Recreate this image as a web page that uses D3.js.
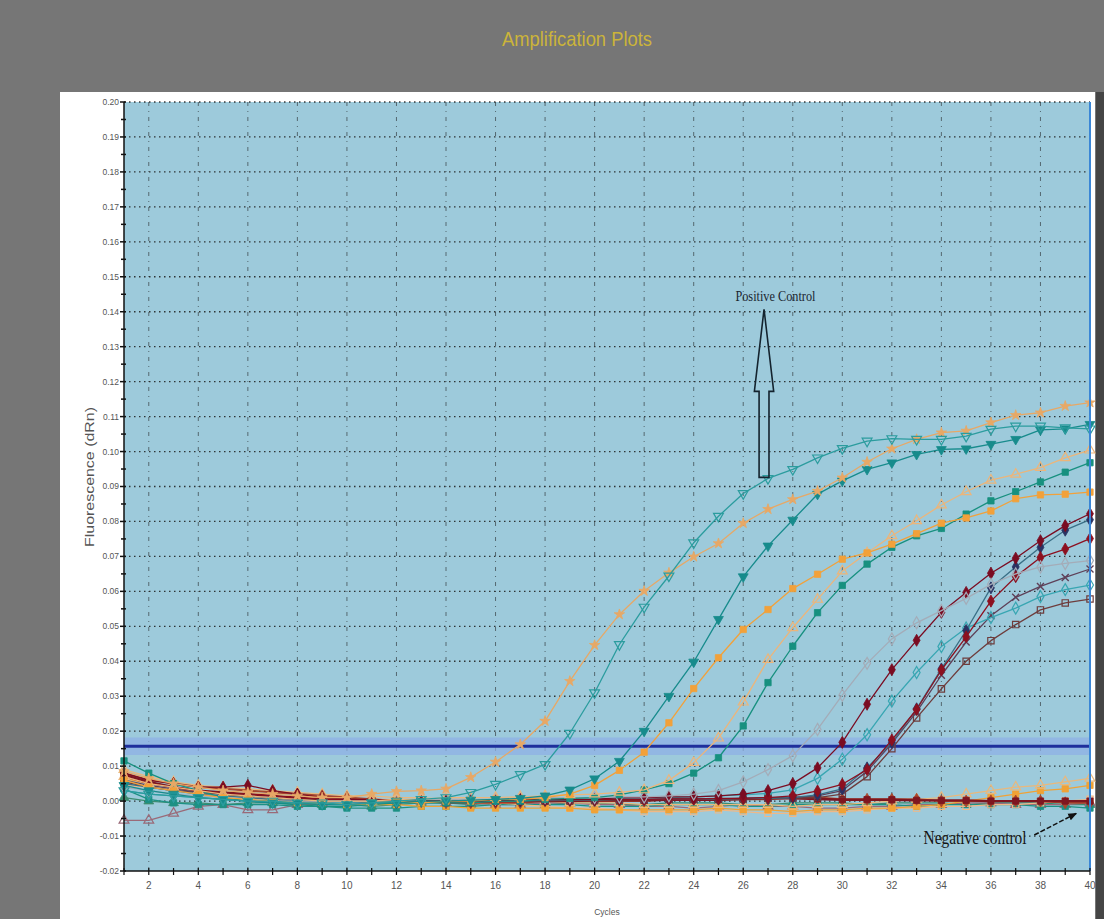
<!DOCTYPE html>
<html><head><meta charset="utf-8">
<script src="https://cdn.jsdelivr.net/npm/d3@7"></script>
<style>html,body{margin:0;padding:0;background:#767676;overflow:hidden}svg{display:block}</style>
</head><body>
<svg id="chart" width="1104" height="919"></svg>
<script>
// ---------------- DATA ----------------
const cycles = [1,2,3,4,5,6,7,8,9,10,11,12,13,14,15,16,17,18,19,20,21,22,23,24,25,26,27,28,29,30,31,32,33,34,35,36,37,38,39,40];
const xTickLabels = [2,4,6,8,10,12,14,16,18,20,22,24,26,28,30,32,34,36,38,40];
const yTickValues = [-0.02,-0.01,0.00,0.01,0.02,0.03,0.04,0.05,0.06,0.07,0.08,0.09,0.10,0.11,0.12,0.13,0.14,0.15,0.16,0.17,0.18,0.19,0.20];
const yTickLabels = ["-0.02","-0.01","0.00","0.01","0.02","0.03","0.04","0.05","0.06","0.07","0.08","0.09","0.10","0.11","0.12","0.13","0.14","0.15","0.16","0.17","0.18","0.19","0.20"];
const threshold = 0.0157;

// amplifying samples
const posStar      = [0.0085,0.0065,0.005,0.004,0.003,0.0025,0.002,0.0015,0.001,0.001,0.002,0.0028,0.003,0.0035,0.0068,0.0112,0.0162,0.0229,0.0343,0.0446,0.0534,0.0601,0.0653,0.0699,0.0737,0.0795,0.0835,0.0863,0.0887,0.0925,0.0970,0.1008,0.1035,0.1054,0.1059,0.1083,0.1104,0.1111,0.1130,0.1140];
const posTriOpen   = [0.003,0.002,0.0015,0.001,0.0005,0,0,-0.0005,-0.0005,-0.001,-0.0005,0,0.0005,0.001,0.0025,0.0048,0.0076,0.0105,0.0194,0.0310,0.0448,0.0555,0.0644,0.0739,0.0815,0.0880,0.0923,0.0949,0.0982,0.1009,0.1030,0.1037,0.1035,0.1035,0.1044,0.1064,0.1073,0.1073,0.1068,0.1065];
const sTriFilled   = [0.0045,0.003,0.002,0.001,0.0005,0,-0.0005,-0.0005,-0.001,-0.001,-0.0005,-0.0005,0,0,0.0003,0.0005,0.0008,0.0015,0.0032,0.0064,0.0114,0.0200,0.0300,0.0398,0.0520,0.0642,0.0730,0.0804,0.0878,0.0916,0.0949,0.0968,0.0992,0.1006,0.1008,0.1021,0.1035,0.1062,0.1065,0.1078];
const sOrangeSq    = [0.006,0.004,0.003,0.002,0.001,0.0005,0,-0.0005,-0.0005,-0.001,-0.0005,0,-0.0005,0,0,0.0005,0.0005,0.001,0.002,0.0045,0.0088,0.0140,0.0224,0.0322,0.0410,0.0491,0.0548,0.0608,0.0649,0.0692,0.0710,0.0735,0.0765,0.0795,0.0810,0.0830,0.0865,0.0876,0.0878,0.0884];
const sTanTri      = [0.007,0.005,0.004,0.003,0.002,0.0015,0.001,0.0005,0,0,0,0.0005,0.0005,0.001,0.001,0.001,0.0012,0.0015,0.0018,0.002,0.0025,0.0032,0.0059,0.0110,0.0180,0.0283,0.0405,0.0496,0.0577,0.0658,0.0710,0.0759,0.0802,0.0847,0.0885,0.0918,0.0935,0.0954,0.0982,0.1004];
const sTealSq      = [0.0115,0.008,0.005,0.003,0.001,0,-0.0005,-0.001,-0.0015,-0.0015,-0.001,-0.0005,-0.0005,-0.0005,-0.0005,0,0,0.0005,0.0008,0.001,0.0018,0.0032,0.0050,0.0080,0.0124,0.0215,0.0339,0.0443,0.0539,0.0617,0.0678,0.0726,0.0759,0.0780,0.0821,0.0859,0.0885,0.0913,0.0941,0.0968];
const sGray        = [0.004,0.003,0.002,0.0015,0.001,0.0005,0,0,0,0,0,0,0.0005,0.0005,0.0005,0.0005,0.001,0.001,0.001,0.001,0.0012,0.0012,0.0015,0.0020,0.0030,0.0055,0.0090,0.0130,0.0205,0.0303,0.0394,0.0464,0.0510,0.0545,0.0580,0.0620,0.0650,0.0670,0.0680,0.0688];
const sRedA        = [0.008,0.006,0.005,0.004,0.004,0.0045,0.003,0.002,0.001,0.0005,0.0005,0,0,0,0,0,0.0005,0.0005,0.0005,0.0005,0.001,0.001,0.0012,0.0012,0.0015,0.002,0.0030,0.0050,0.0095,0.0168,0.0277,0.0376,0.0460,0.0540,0.0597,0.0652,0.0695,0.0745,0.0788,0.0822];
const sCyanDia     = [0.003,0.002,0.0015,0.001,0.0005,0,0,-0.0005,-0.0005,-0.0005,0,0,0,0,0.0003,0.0003,0.0005,0.0005,0.0005,0.0005,0.0008,0.001,0.001,0.0012,0.0015,0.0018,0.0022,0.0032,0.0065,0.0120,0.0190,0.0286,0.0368,0.0442,0.0495,0.0525,0.0552,0.0585,0.0605,0.0618];
const sRedB        = [0.007,0.005,0.004,0.003,0.002,0.002,0.0015,0.001,0.0005,0.0005,0,0,0,0,0.0002,0.0002,0.0004,0.0004,0.0004,0.0004,0.0005,0.0005,0.0006,0.0006,0.0007,0.0008,0.001,0.0015,0.0029,0.0048,0.0090,0.0175,0.0262,0.0375,0.0470,0.0572,0.0642,0.0697,0.0721,0.0751];
const sNavy        = [0.005,0.004,0.003,0.002,0.0015,0.001,0.0005,0,0,0,-0.0005,-0.0005,0,0,0,0,0,0.0003,0.0003,0.0003,0.0005,0.0005,0.0005,0.0006,0.0006,0.0008,0.0008,0.001,0.0018,0.0035,0.0095,0.0168,0.0264,0.0378,0.0488,0.0610,0.0670,0.0726,0.0775,0.0805];
const sCross       = [0.006,0.0045,0.0035,0.0025,0.002,0.0015,0.001,0.0005,0,0,0,0,0,0,0,0.0003,0.0003,0.0003,0.0005,0.0005,0.0005,0.0005,0.0006,0.0006,0.0008,0.0008,0.001,0.001,0.0015,0.0030,0.0085,0.0165,0.0255,0.0360,0.0455,0.0530,0.0583,0.0614,0.0640,0.0664];
const sBrownSq     = [0.0055,0.004,0.003,0.0025,0.002,0.0015,0.001,0.0005,0.0005,0,0,0,0,-0.0005,-0.0005,0,0,0,0.0002,0.0002,0.0004,0.0004,0.0005,0.0005,0.0006,0.0006,0.0008,0.0008,0.0010,0.0020,0.0070,0.0150,0.0238,0.0321,0.0400,0.0459,0.0505,0.0547,0.0567,0.0578];

// non-amplifying samples (negative controls / baseline)
const negOrangeSq  = [0.0065,0.005,0.004,0.003,0.002,0.001,0.0005,0,-0.0005,-0.001,-0.001,-0.001,-0.0015,-0.0015,-0.002,-0.002,-0.002,-0.002,-0.002,-0.0025,-0.0025,-0.0025,-0.0025,-0.0025,-0.002,-0.0025,-0.0025,-0.003,-0.0025,-0.0025,-0.002,-0.002,-0.0015,-0.001,0,0.001,0.002,0.003,0.0035,0.0045];
const negTanTri    = [0.009,0.007,0.0055,0.0045,0.004,0.0035,0.003,0.0025,0.002,0.0015,0.0015,0.001,0.001,0.0005,0.0005,0,0,0,-0.0005,-0.0005,-0.0005,-0.001,-0.001,-0.001,-0.001,-0.001,-0.001,-0.0015,-0.001,-0.001,-0.0005,0,0.0005,0.001,0.002,0.003,0.004,0.0045,0.0055,0.0065];
const negRed       = [0.0075,0.0055,0.004,0.003,0.0025,0.002,0.0015,0.001,0.0005,0.0005,0,0,0,0,0,0,0,0,0,0.0002,0.0002,0.0002,0.0004,0.0004,0.0004,0.0006,0.0008,0.0008,0.0006,0.0004,0.0004,0.0004,0.0002,0.0002,0.0002,0,0,0,0,0];
const negRust      = [0.008,0.006,0.005,0.004,0.0035,0.003,0.0025,0.002,0.0015,0.001,0.0005,0,0,-0.0005,-0.0005,-0.0005,-0.0005,0,0,0,0,0,0.0005,0.0005,0.0005,0.0005,0.0005,0.001,0.001,0.0005,0.0005,0.0005,0.0005,0,0,0,0,0,-0.0005,-0.0005];
const negTealSq    = [0.0035,0.0005,-0.0005,-0.001,-0.001,-0.001,-0.001,-0.0015,-0.0015,-0.002,-0.002,-0.002,-0.0015,-0.0015,-0.0015,-0.001,-0.001,-0.001,-0.001,-0.0015,-0.0015,-0.0015,-0.001,-0.001,-0.001,-0.0015,-0.0015,-0.001,-0.001,-0.001,-0.001,-0.001,-0.0015,-0.001,-0.001,-0.001,-0.001,-0.0015,-0.0015,-0.002];
const negMauveTri  = [-0.0055,-0.0055,-0.0035,-0.0015,-0.001,-0.0025,-0.0025,-0.001,-0.0005,0,0,0,0,-0.0005,-0.0005,-0.001,-0.001,-0.0005,-0.0005,-0.001,-0.001,-0.0015,-0.0015,-0.002,-0.0015,-0.001,-0.0015,-0.0015,-0.002,-0.002,-0.0015,-0.0015,-0.001,-0.001,-0.0005,-0.0005,-0.001,-0.001,-0.001,-0.0005];
const negLightStar = [0.0045,0.004,0.0035,0.003,0.0025,0.002,0.0015,0.001,0.001,0.0005,0.0005,0.0005,0,0,-0.0005,-0.0005,-0.001,-0.0015,-0.002,-0.002,-0.0025,-0.003,-0.003,-0.003,-0.0025,-0.003,-0.0035,-0.0035,-0.003,-0.003,-0.0025,-0.002,-0.002,-0.0015,-0.0015,-0.001,-0.001,-0.0005,0,0.0005];
const negGreenTri  = [0.001,0,-0.0005,-0.0005,-0.001,-0.0005,-0.0005,-0.001,-0.001,-0.001,-0.0015,-0.001,-0.0005,-0.0005,-0.001,-0.0005,-0.0005,-0.001,-0.0005,-0.0005,-0.001,-0.001,-0.0005,-0.0005,-0.0005,-0.001,-0.001,-0.0005,-0.0005,-0.0005,-0.001,-0.0005,-0.0005,-0.0005,-0.001,-0.0005,-0.0005,-0.0005,-0.001,-0.001];

// ---------------- STYLES ----------------
const seriesList = [
  {v: negGreenTri,  c:'#3c8c70', m:'tri',  open:false},
  {v: negMauveTri,  c:'#9a6a78', m:'tri',  open:true},
  {v: negTealSq,    c:'#1c9184', m:'sq',   open:false},
  {v: negLightStar, c:'#f0b886', m:'sq',   open:true},
  {v: negOrangeSq,  c:'#f0a236', m:'sq',   open:false},
  {v: negTanTri,    c:'#e9b87c', m:'tri',  open:true},
  {v: negRust,      c:'#a8452c', m:'dia',  open:false, w:2},
  {v: negRed,       c:'#7e1620', m:'sq',   open:false, w:2.4},
  {v: sBrownSq,     c:'#6e3c3c', m:'sq',   open:true},
  {v: sCross,       c:'#5e4058', m:'x',    open:true},
  {v: sCyanDia,     c:'#38a6b2', m:'dia',  open:true},
  {v: sNavy,        c:'#3a6f86', m:'dia',  open:false, mc:'#2a3262'},
  {v: sRedB,        c:'#8c1020', m:'dia',  open:false},
  {v: sRedA,        c:'#7a0c22', m:'dia',  open:false},
  {v: sGray,        c:'#a4acb8', m:'dia',  open:true},
  {v: sTealSq,      c:'#17907f', m:'sq',   open:false},
  {v: sTanTri,      c:'#ecb57a', m:'tri',  open:true},
  {v: sOrangeSq,    c:'#f2a13a', m:'sq',   open:false},
  {v: sTriFilled,   c:'#178b8c', m:'tri',  open:false, down:true},
  {v: posStar,      c:'#e7a866', m:'star', open:false},
  {v: posTriOpen,   c:'#2b9c9e', m:'tri',  open:true,  down:true}
];

// ---------------- LAYOUT ----------------
const svg = d3.select('#chart');
const W = 1104, H = 919;
const L = 124, R = 1090, T = 102, B = 871;
const x = d3.scaleLinear().domain([1, 40]).range([L, R]);
const y = d3.scaleLinear().domain([-0.02, 0.20]).range([B, T]);

svg.append('rect').attr('width', W).attr('height', H).attr('fill', '#767676');
svg.append('rect').attr('x', 60).attr('y', 92).attr('width', 1035).attr('height', H - 92).attr('fill', '#ffffff');
svg.append('rect').attr('x', 1096).attr('y', 92).attr('width', 8).attr('height', H - 92).attr('fill', '#454545');

// title
svg.append('text').attr('x', 577).attr('y', 46).attr('text-anchor', 'middle')
  .attr('font-family', 'Liberation Sans, Arial, sans-serif').attr('font-size', 21)
  .attr('fill', '#cbb43a').attr('textLength', 150).attr('lengthAdjust', 'spacingAndGlyphs')
  .text('Amplification Plots');

// plot background
svg.append('rect').attr('x', L).attr('y', T).attr('width', R - L).attr('height', B - T).attr('fill', '#9dcadb');

// grid
const g = svg.append('g');
g.selectAll('.hg').data(yTickValues.filter(v => v > -0.02)).enter().append('line')
  .attr('x1', L).attr('x2', R).attr('y1', d => y(d)).attr('y2', d => y(d))
  .attr('stroke', '#1a1a1a').attr('stroke-width', 1.3).attr('stroke-dasharray', '1.5,3.5').attr('opacity', 0.85);
g.selectAll('.vg').data(xTickLabels.filter(v => v < 40)).enter().append('line')
  .attr('x1', d => x(d)).attr('x2', d => x(d)).attr('y1', T).attr('y2', B)
  .attr('stroke', '#1a1a1a').attr('stroke-width', 1).attr('stroke-dasharray', '4,5,1,5').attr('opacity', 0.55);

// threshold
svg.append('rect').attr('x', L).attr('width', R - L)
  .attr('y', y(threshold + 0.0025)).attr('height', y(threshold - 0.0025) - y(threshold + 0.0025))
  .attr('fill', '#8fb0e6').attr('opacity', 0.75);
svg.append('line').attr('x1', L).attr('x2', R).attr('y1', y(threshold)).attr('y2', y(threshold))
  .attr('stroke', '#1f2f9c').attr('stroke-width', 3);

// series
const line = d3.line().x((d, i) => x(cycles[i])).y(d => y(d));
const symOf = m => ({star: d3.symbolStar, tri: d3.symbolTriangle, sq: d3.symbolSquare, dia: d3.symbolDiamond, circ: d3.symbolCircle})[m];
const sizeOf = m => ({star: 34, tri: 42, sq: 40, dia: 42, circ: 36})[m];
const sg = svg.append('g');
seriesList.forEach(s => {
  sg.append('path').datum(s.v).attr('d', line).attr('fill', 'none')
    .attr('stroke', s.c).attr('stroke-width', s.w || 1.3).attr('stroke-linejoin', 'round');
  const mc = s.mc || s.c;
  const pts = sg.append('g').selectAll('path').data(s.v).enter().append('path')
    .attr('transform', (d, i) => `translate(${x(cycles[i])},${y(d)})` + (s.down ? ' rotate(180)' : ''));
  if (s.m === 'x') {
    pts.attr('d', 'M-3.5,-3.5L3.5,3.5M-3.5,3.5L3.5,-3.5').attr('fill', 'none').attr('stroke', mc).attr('stroke-width', 1.4);
  } else {
    pts.attr('d', d3.symbol().type(symOf(s.m)).size(sizeOf(s.m)))
      .attr('fill', s.open ? 'none' : mc).attr('stroke', mc).attr('stroke-width', s.open ? 1.2 : 0.8);
  }
});

// right edge
svg.append('line').attr('x1', R).attr('x2', R).attr('y1', T).attr('y2', B)
  .attr('stroke', '#3a86d6').attr('stroke-width', 2);

// axes
const ax = svg.append('g').attr('stroke', '#111');
ax.append('line').attr('x1', L).attr('x2', L).attr('y1', T).attr('y2', B).attr('stroke-width', 1.5);
ax.append('line').attr('x1', L).attr('x2', R).attr('y1', B).attr('y2', B).attr('stroke-width', 1.5);
ax.selectAll('.yt').data(yTickValues).enter().append('line')
  .attr('x1', L - 4).attr('x2', L + 2).attr('y1', d => y(d)).attr('y2', d => y(d)).attr('stroke-width', 1.5);
ax.selectAll('.ym').data(d3.pairs(yTickValues).map(p => (p[0] + p[1]) / 2)).enter().append('line')
  .attr('x1', L - 3).attr('x2', L + 2).attr('y1', d => y(d)).attr('y2', d => y(d)).attr('stroke-width', 1.5);
ax.selectAll('.xt').data(cycles).enter().append('line')
  .attr('x1', d => x(d)).attr('x2', d => x(d)).attr('y1', B - 3).attr('y2', B + 4).attr('stroke-width', 1.2);

const lab = svg.append('g').attr('font-family', 'Liberation Sans, Arial, sans-serif').attr('fill', '#555');
lab.selectAll('.yl').data(yTickValues).enter().append('text')
  .attr('x', L - 5).attr('y', d => y(d)).attr('dy', '0.35em').attr('text-anchor', 'end')
  .attr('font-size', 8.5).text((d, i) => yTickLabels[i]);
lab.selectAll('.xl').data(xTickLabels).enter().append('text')
  .attr('x', d => x(d)).attr('y', 889).attr('text-anchor', 'middle')
  .attr('font-size', 10).text(d => d);
lab.append('text').attr('x', (L + R) / 2).attr('y', 915).attr('text-anchor', 'middle')
  .attr('font-size', 8.5).text('Cycles');
lab.append('text').attr('transform', `translate(94,${477}) rotate(-90)`).attr('text-anchor', 'middle')
  .attr('font-size', 12).attr('textLength', 140).attr('lengthAdjust', 'spacingAndGlyphs')
  .text('Fluorescence (dRn)');

// annotations (data units)
const posArrow = {cx: 26.84, tip: 0.1407, head: 0.1172, tail: 0.0926, headHalf: 0.39, shaftHalf: 0.2};
const posText = {cx: 27.3, cy: 0.1445};
const negText = {cx: 35.36, cy: -0.0104};
const negArrow = {x1: 37.75, y1: -0.0097, x2: 39.45, y2: -0.0035};

const a = posArrow;
const arrowPts = [
  [a.cx, a.tip], [a.cx + a.headHalf, a.head], [a.cx + a.shaftHalf, a.head], [a.cx + a.shaftHalf, a.tail],
  [a.cx - a.shaftHalf, a.tail], [a.cx - a.shaftHalf, a.head], [a.cx - a.headHalf, a.head]
].map(p => [x(p[0]), y(p[1])]);
svg.append('path').attr('d', 'M' + arrowPts.join('L') + 'Z')
  .attr('fill', 'none').attr('stroke', '#14232e').attr('stroke-width', 1.6);
svg.append('text').attr('x', x(posText.cx)).attr('y', y(posText.cy)).attr('dy', '0.35em')
  .attr('text-anchor', 'middle').attr('font-family', 'Liberation Serif, Times New Roman, serif')
  .attr('font-size', 15).attr('fill', '#1a2530').attr('textLength', 80).attr('lengthAdjust', 'spacingAndGlyphs')
  .text('Positive Control');

svg.append('text').attr('x', x(negText.cx)).attr('y', y(negText.cy)).attr('dy', '0.35em')
  .attr('text-anchor', 'middle').attr('font-family', 'Liberation Serif, Times New Roman, serif')
  .attr('font-size', 18).attr('fill', '#151515').attr('textLength', 103).attr('lengthAdjust', 'spacingAndGlyphs')
  .text('Negative control');
const defs = svg.append('defs');
defs.append('marker').attr('id', 'ah').attr('viewBox', '0 0 10 10').attr('refX', 9).attr('refY', 5)
  .attr('markerWidth', 6).attr('markerHeight', 6).attr('orient', 'auto')
  .append('path').attr('d', 'M0,1L10,5L0,9Z').attr('fill', '#111');
svg.append('line').attr('x1', x(negArrow.x1)).attr('y1', y(negArrow.y1)).attr('x2', x(negArrow.x2)).attr('y2', y(negArrow.y2))
  .attr('stroke', '#111').attr('stroke-width', 1.5).attr('stroke-dasharray', '5,2').attr('marker-end', 'url(#ah)');
</script>
</body></html>
